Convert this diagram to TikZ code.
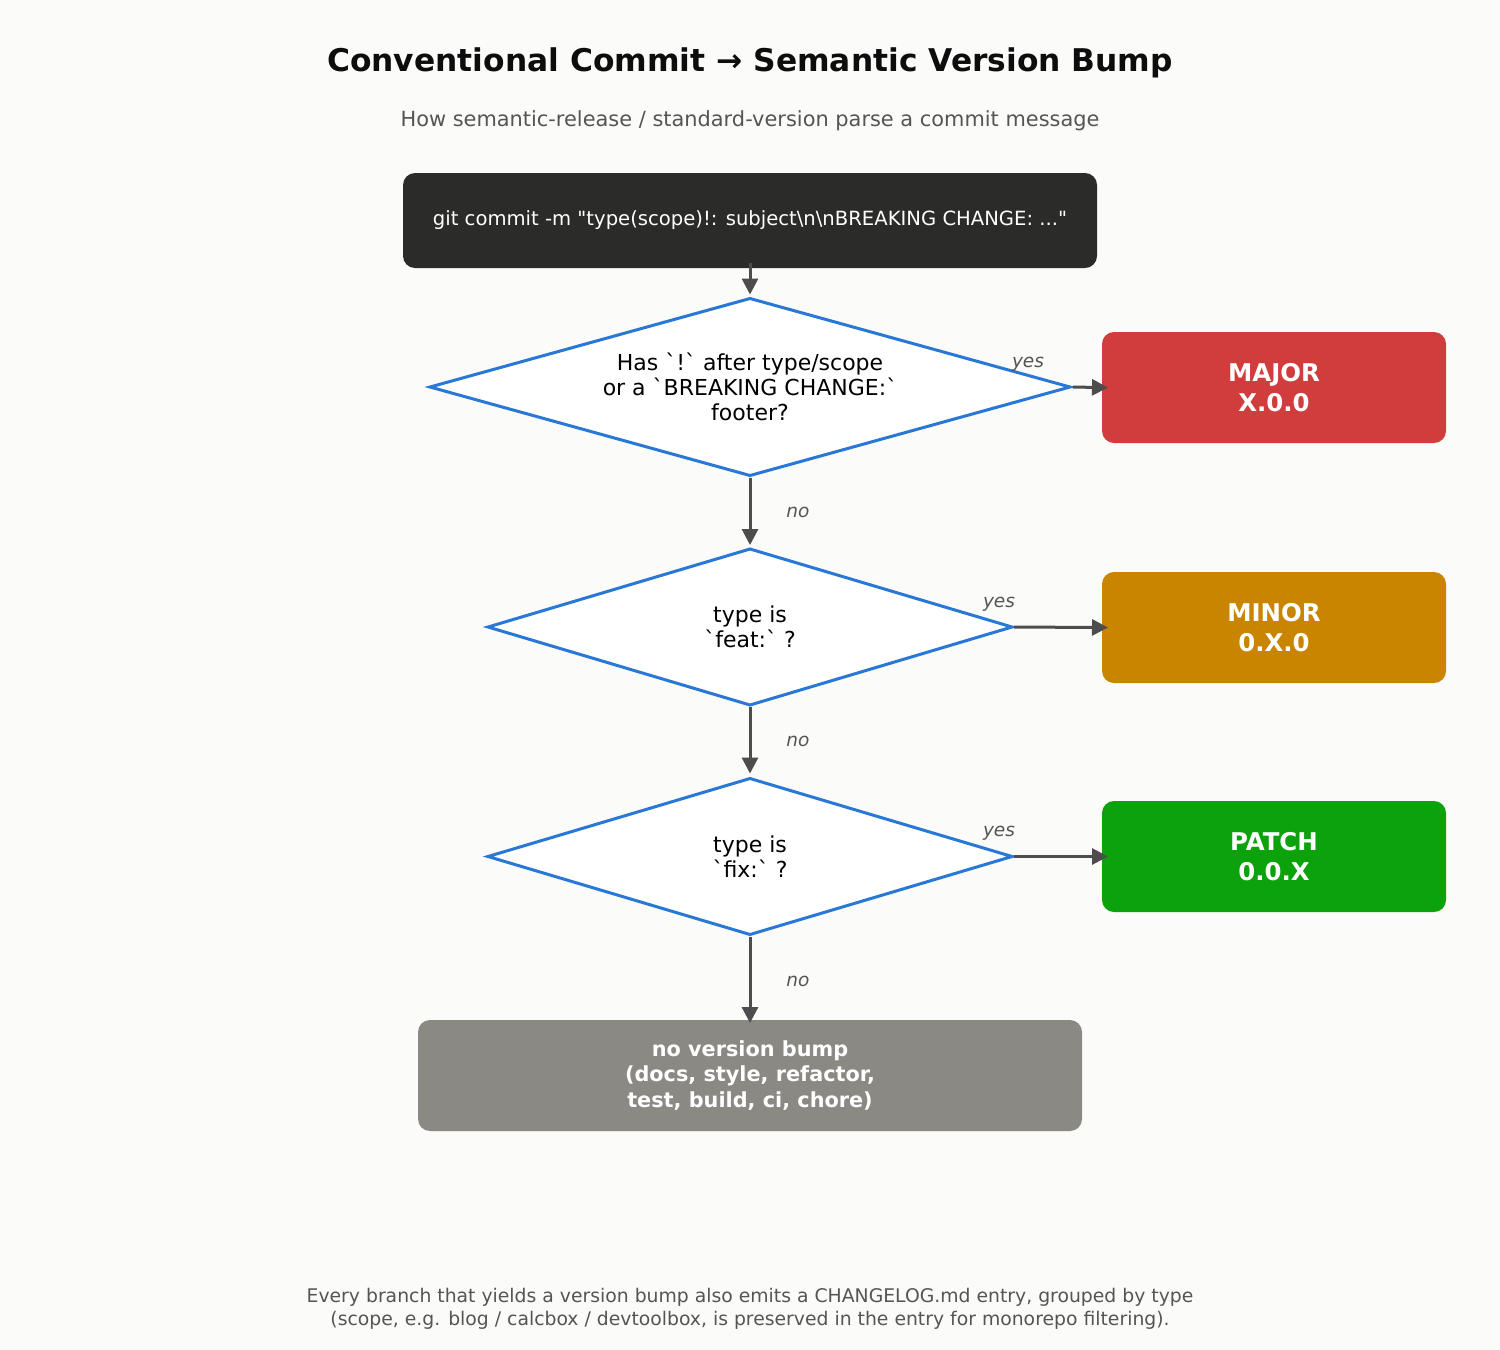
\documentclass[tikz,border=0pt]{standalone}
\usepackage{fontspec}
\setmainfont{DejaVu Sans}[Ligatures={TeXOff}]
\usetikzlibrary{shapes.geometric,arrows.meta}
\definecolor{bgc}{HTML}{FBFBFA}
\definecolor{darkbox}{HTML}{2B2B29}
\definecolor{diablue}{HTML}{2A78D6}
\definecolor{majorred}{HTML}{D13D3D}
\definecolor{minororange}{HTML}{C98500}
\definecolor{patchgreen}{HTML}{0CA20C}
\definecolor{nonegray}{HTML}{8A8983}
\definecolor{arrgray}{HTML}{4D4D4D}
\definecolor{labgray}{HTML}{555555}
\begin{document}
\begin{tikzpicture}[x=1pt,y=-1pt,
  dia/.style={diamond, draw=diablue, line width=3pt, fill=white, inner sep=0pt, outer sep=0pt},
  diatext/.style={align=center, font=\fontsize{22}{25}\selectfont, text=black},
  resbox/.style={rounded corners=12pt, inner sep=0pt, outer sep=0pt, minimum width=344pt, minimum height=111pt, text=white, align=center, font=\fontsize{24.4}{30}\bfseries\selectfont},
  arr/.style={draw=arrgray, line width=3pt, -{Triangle[length=16pt,width=16pt]}},
  lab/.style={text=labgray, font=\fontsize{18.5}{22}\itshape\selectfont}
]
\path[fill=bgc] (0,0) rectangle (1500,1350);

\node[font=\fontsize{31.3}{36}\bfseries\selectfont, text=black!95] (title) at (750,63) {Conventional Commit → Semantic Version Bump};
\node[font=\fontsize{20.9}{24}\selectfont, text=labgray] (subtitle) at (750,121) {How semantic-release / standard-version parse a commit message};

\node[fill=darkbox, rounded corners=12pt, minimum width=694pt, minimum height=95pt, inner sep=0pt, outer sep=0pt, text=white, font=\fontsize{19.6}{23}\selectfont] (commit) at (750,220.5) {git commit -m "type(scope)!: subject\textbackslash{}n\textbackslash{}nBREAKING CHANGE: ..."};

\node[dia, minimum width=640pt, minimum height=177pt] (d1) at (750,387) {};
\node[diatext] (t1) at (750,387) {Has `!` after type/scope\\or a `BREAKING CHANGE:`\\footer?};

\node[dia, minimum width=524pt, minimum height=156pt] (d2) at (750,627) {};
\node[diatext] (t2) at (750,627) {type is\\`feat:` ?};

\node[dia, minimum width=524pt, minimum height=156pt] (d3) at (750,856.5) {};
\node[diatext] (t3) at (750,856.5) {type is\\`fix:` ?};

\node[resbox, fill=majorred] (major) at (1274,387.5) {MAJOR\\X.0.0};
\node[resbox, fill=minororange] (minor) at (1274,627.5) {MINOR\\0.X.0};
\node[resbox, fill=patchgreen] (patch) at (1274,856.5) {PATCH\\0.0.X};

\node[fill=nonegray, rounded corners=12pt, minimum width=664pt, minimum height=111pt, inner sep=0pt, outer sep=0pt, text=white, align=center, font=\fontsize{20.8}{25.5}\bfseries\selectfont] (none) at (750,1075.5) {no version bump\\(docs, style, refactor,\\test, build, ci, chore)};

\draw[arr, shorten <=-5pt, shorten >=4pt] (commit.south) -- (d1.north);
\draw[arr, shorten <=2pt, shorten >=4pt] (d1.south) -- (d2.north);
\draw[arr, shorten <=2pt, shorten >=5pt] (d2.south) -- (d3.north);
\draw[arr, shorten <=2pt, shorten >=-3pt] (d3.south) -- (none.north);

\draw[arr, shorten <=3pt, shorten >=-6pt] (d1.east) -- (major.west);
\draw[arr, shorten <=2pt, shorten >=-6pt] (d2.east) -- (minor.west);
\draw[arr, shorten <=2pt, shorten >=-6pt] (d3.east) -- (patch.west);

\node[lab] (y1) at (1028,364) {yes};
\node[lab] (y2) at (999,604) {yes};
\node[lab] (y3) at (999,833) {yes};
\node[lab] (n1) at (798,512) {no};
\node[lab] (n2) at (798,741) {no};
\node[lab] (n3) at (798,981) {no};

\node[align=center, text=labgray, font=\fontsize{18.8}{22.5}\selectfont] (foot) at (750,1309) {Every branch that yields a version bump also emits a CHANGELOG.md entry, grouped by type\\(scope, e.g. blog / calcbox / devtoolbox, is preserved in the entry for monorepo filtering).};
\end{tikzpicture}
\end{document}
